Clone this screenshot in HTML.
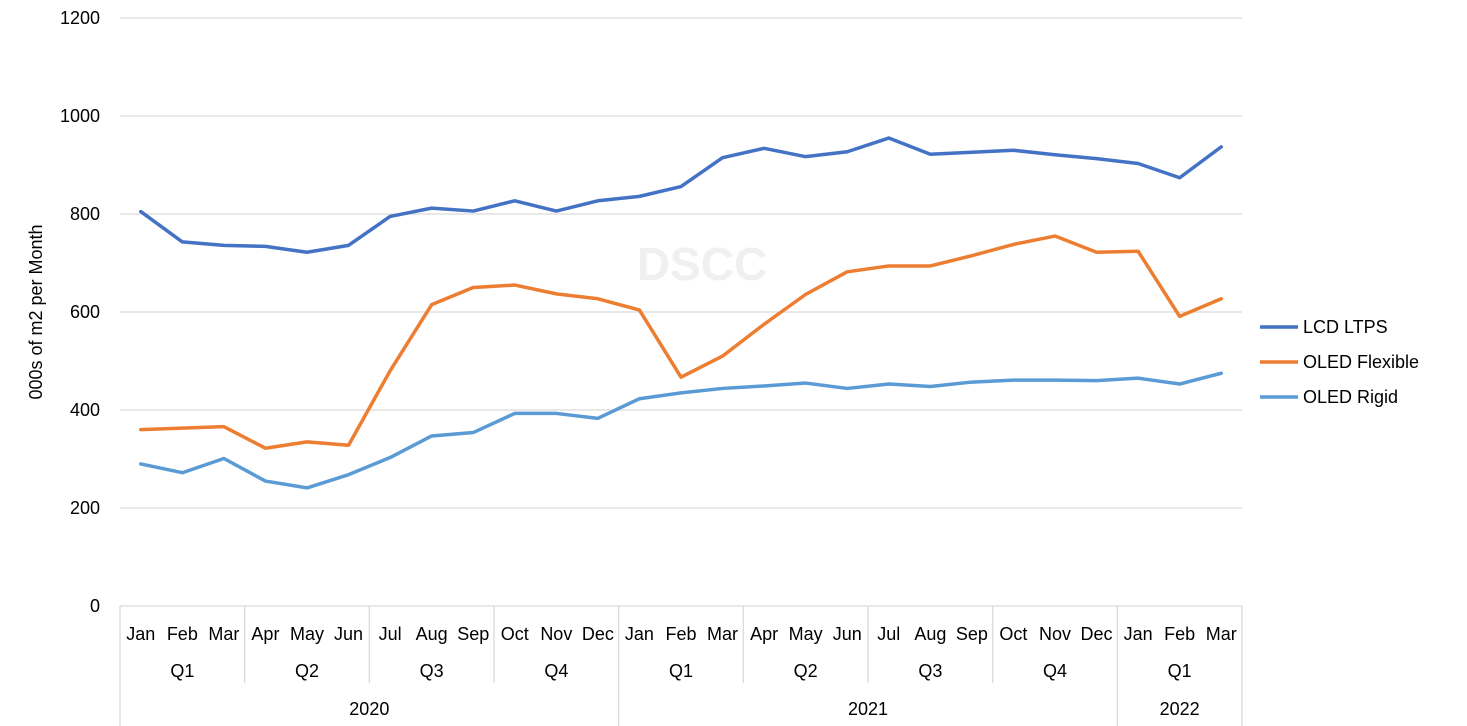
<!DOCTYPE html>
<html><head><meta charset="utf-8"><style>
body{margin:0;background:#fff;}
svg{display:block;font-family:"Liberation Sans",Arial,sans-serif;}
</style></head><body>
<svg id="chart" width="1467" height="726" viewBox="0 0 1467 726" xmlns="http://www.w3.org/2000/svg">
<text x="702" y="280" font-size="46" font-weight="bold" fill="#f0f0f0" text-anchor="middle">DSCC</text>
<g id="grid"></g><g id="axes"></g><g id="series"></g>
<text transform="translate(42,312) rotate(-90)" font-size="18" text-anchor="middle" fill="#000">000s of m2 per Month</text>
<g id="legend"></g>
</svg>
<script>
const months=["Jan","Feb","Mar","Apr","May","Jun","Jul","Aug","Sep","Oct","Nov","Dec","Jan","Feb","Mar","Apr","May","Jun","Jul","Aug","Sep","Oct","Nov","Dec","Jan","Feb","Mar"];
const quarters=["Q1","Q2","Q3","Q4","Q1","Q2","Q3","Q4","Q1"];
const years=["2020","2021","2022"];
const yearSpans=[12,12,3];
const yTicks=[0,200,400,600,800,1000,1200];
const lcdLtps=[805,743,736,734,722,736,795,812,806,827,806,827,836,856,915,934,917,927,955,922,926,930,921,913,903,874,937];
const oledFlexible=[360,363,366,322,335,328,480,615,650,655,637,627,604,467,510,575,636,682,694,694,715,738,755,722,724,591,627];
const oledRigid=[290,272,301,255,241,268,303,347,354,393,393,383,423,435,444,449,455,444,453,448,457,461,461,460,465,453,475];
const seriesNames=["LCD LTPS","OLED Flexible","OLED Rigid"];
const seriesColors=["#4472C4","#ED7D31","#5B9BD5"];
const allSeries=[lcdLtps,oledFlexible,oledRigid];

const NS="http://www.w3.org/2000/svg";
const x0=120,x1=1242,y0=606,y1=18,ymax=1200;
const step=(x1-x0)/months.length;
const xs=i=>x0+step*(i+0.5);
const ys=v=>y0-(v/ymax)*(y0-y1);
function mk(tag,attrs,parent,text){const e=document.createElementNS(NS,tag);for(const k in attrs)e.setAttribute(k,attrs[k]);if(text!==undefined)e.textContent=text;parent.appendChild(e);return e;}
const grid=document.getElementById("grid"),axes=document.getElementById("axes"),ser=document.getElementById("series"),leg=document.getElementById("legend");
yTicks.forEach(t=>{
  if(t>0){const l=mk("line",{x1:x0,x2:x1,y1:ys(t),y2:ys(t),stroke:"#d9d9d9","stroke-width":1.3},grid);
  
  }
  const tx=mk("text",{x:100,y:ys(t)+6,"font-size":18,"text-anchor":"end"},axes,t);
  
  
});
const ax=mk("line",{x1:x0,x2:x1,y1:y0,y2:y0,stroke:"#d9d9d9","stroke-width":1.3},axes);


months.forEach((m,i)=>{
  const t=mk("text",{x:xs(i),y:640,"font-size":18,"text-anchor":"middle"},axes,m);
  
  
});
quarters.forEach((q,i)=>{
  const cx=x0+step*(i*3+1.5);
  const t=mk("text",{x:cx,y:677,"font-size":18,"text-anchor":"middle"},axes,q);
  
  
  const xb=x0+step*i*3;
  const l=mk("line",{x1:xb,x2:xb,y1:y0,y2:(i%4===0?726:683),stroke:"#d9d9d9","stroke-width":1.3},axes);
  
  
});
const le=mk("line",{x1:x1,x2:x1,y1:y0,y2:726,stroke:"#d9d9d9","stroke-width":1.3},axes);


let start=0;
years.forEach((y,i)=>{
  const cx=x0+step*(start+yearSpans[i]/2);
  const t=mk("text",{x:cx,y:715,"font-size":18,"text-anchor":"middle"},axes,y);
  
  
  start+=yearSpans[i];
});
allSeries.forEach((s,k)=>{
  const p=mk("polyline",{points:s.map((v,i)=>xs(i)+","+ys(v)).join(" "),fill:"none",stroke:seriesColors[k],"stroke-width":3.5,"stroke-linejoin":"round","stroke-linecap":"round"},ser);
  
  
  const ly=327+k*35;
  const g=mk("g",{},leg);
  
  
  mk("line",{x1:1260,x2:1298,y1:ly,y2:ly,stroke:seriesColors[k],"stroke-width":3.5},g);
  mk("text",{x:1303,y:ly+6,"font-size":18},g,seriesNames[k]);
});
</script>
</body></html>
